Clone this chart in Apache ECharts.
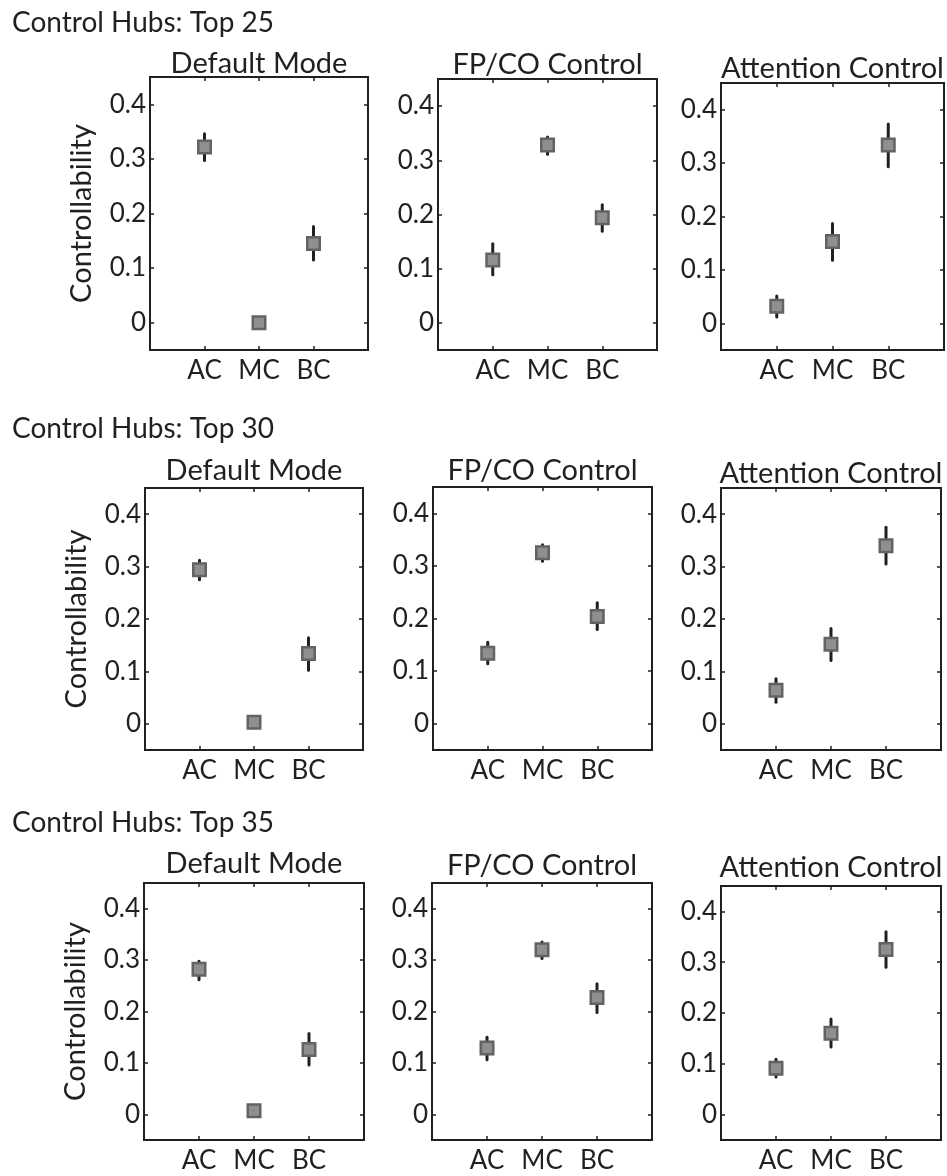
<!DOCTYPE html>
<html>
<head>
<meta charset="utf-8">
<script src="https://cdn.jsdelivr.net/npm/echarts@6/dist/echarts.min.js"></script>
<style>
  html, body { margin: 0; padding: 0; background: #fff; }
  #main { width: 947px; height: 1176px; }
</style>
</head>
<body>
<div id="main"></div>
<script>
// categories and tick labels
var categories = ['AC', 'MC', 'BC'];
var yTicks = [0, 0.1, 0.2, 0.3, 0.4];
var rowTitles = ['Control Hubs: Top 25', 'Control Hubs: Top 30', 'Control Hubs: Top 35'];
var panelTitles = ['Default Mode', 'FP/CO Control', 'Attention Control'];

// values, one inner array per network (DM, FP/CO, Attention)
var top25Mean = [[0.322, 0.000, 0.145], [0.116, 0.328, 0.194], [0.032, 0.153, 0.334]];
var top25Low  = [[0.297, 0.000, 0.115], [0.089, 0.311, 0.169], [0.012, 0.118, 0.293]];
var top25High = [[0.346, 0.000, 0.176], [0.146, 0.343, 0.218], [0.051, 0.187, 0.373]];

var top30Mean = [[0.294, 0.003, 0.134], [0.134, 0.325, 0.204], [0.064, 0.152, 0.340]];
var top30Low  = [[0.275, 0.003, 0.102], [0.114, 0.309, 0.179], [0.041, 0.121, 0.305]];
var top30High = [[0.312, 0.003, 0.164], [0.155, 0.340, 0.230], [0.086, 0.182, 0.375]];

var top35Mean = [[0.282, 0.007, 0.126], [0.129, 0.320, 0.227], [0.091, 0.160, 0.325]];
var top35Low  = [[0.262, 0.007, 0.096], [0.106, 0.303, 0.198], [0.074, 0.133, 0.290]];
var top35High = [[0.298, 0.007, 0.157], [0.150, 0.335, 0.254], [0.109, 0.188, 0.360]];

var rows = [
  {mean: top25Mean, low: top25Low, high: top25High},
  {mean: top30Mean, low: top30Low, high: top30High},
  {mean: top35Mean, low: top35Low, high: top35High}
];

// panel boxes: [left, top, right, bottom] in px
var boxes = [
  [[150, 77, 368, 350], [438, 79, 657, 350], [721, 83, 944, 350]],
  [[145, 488, 363, 750], [433, 487, 652, 750], [721, 488, 941, 750]],
  [[144, 883, 364, 1140], [432, 883, 652, 1140], [721, 886, 941, 1140]]
];
var rowTitleBase = [32, 438, 832];
var panelTitleBase = [[73, 74, 78], [480, 480, 483], [873, 875, 877]];

var FONT = 'Lato';
var INK = '#231f20';
var FS = 26;

var grid = [], xAxis = [], yAxis = [], series = [], title = [];

rowTitles.forEach(function (t, r) {
  title.push({
    text: t, left: 12, top: rowTitleBase[r] - 23, padding: 0,
    textStyle: {fontFamily: FONT, fontSize: 28, fontWeight: 'normal', color: INK}
  });
});

var gi = 0;
for (var r = 0; r < 3; r++) {
  for (var c = 0; c < 3; c++) {
    var b = boxes[r][c];
    grid.push({left: b[0], top: b[1], width: b[2] - b[0], height: b[3] - b[1],
      show: true, borderColor: INK, borderWidth: 2, backgroundColor: '#fff'});

    title.push({
      text: panelTitles[c], left: (b[0] + b[2]) / 2, top: panelTitleBase[r][c] - 24,
      textAlign: 'center', padding: 0,
      textStyle: {fontFamily: FONT, fontSize: 29, fontWeight: 'normal', color: INK}
    });

    var tickStyle = {show: true, inside: true, length: 4, lineStyle: {color: INK, width: 1.5}};
    var lineStyle = {show: true, onZero: false, lineStyle: {color: INK, width: 2}};
    xAxis.push({
      type: 'value', gridIndex: gi, min: 0, max: 4, position: 'bottom',
      axisLine: lineStyle,
      axisTick: Object.assign({customValues: [1, 2, 3]}, tickStyle),
      axisLabel: {customValues: [1, 2, 3], margin: 8, fontFamily: FONT, fontSize: FS, color: INK,
        formatter: function (v) { return categories[Math.round(v) - 1]; }},
      splitLine: {show: false}
    });
    xAxis.push({
      type: 'value', gridIndex: gi, min: 0, max: 4, position: 'top',
      axisLine: lineStyle,
      axisTick: Object.assign({customValues: [1, 2, 3]}, tickStyle),
      axisLabel: {show: false}, splitLine: {show: false}
    });
    yAxis.push({
      type: 'value', gridIndex: gi, min: -0.05, max: 0.45, position: 'left',
      name: c === 0 ? 'Controllability' : '', nameLocation: 'middle', nameRotate: 90, nameGap: 54,
      nameTextStyle: {fontFamily: FONT, fontSize: 29, color: INK},
      axisLine: lineStyle,
      axisTick: Object.assign({customValues: yTicks}, tickStyle),
      axisLabel: {customValues: yTicks, margin: 4, fontFamily: FONT, fontSize: FS, color: INK,
        formatter: function (v) { return Math.abs(v) < 1e-9 ? '0' : v.toFixed(1); }},
      splitLine: {show: false}
    });
    yAxis.push({
      type: 'value', gridIndex: gi, min: -0.05, max: 0.45, position: 'right',
      axisLine: lineStyle,
      axisTick: Object.assign({customValues: yTicks}, tickStyle),
      axisLabel: {show: false}, splitLine: {show: false}
    });

    var d = rows[r];
    var errData = [], ptData = [];
    for (var k = 0; k < categories.length; k++) {
      errData.push([k + 1, d.low[c][k], d.high[c][k]]);
      ptData.push([k + 1, d.mean[c][k]]);
    }
    series.push({
      type: 'custom', xAxisIndex: gi * 2, yAxisIndex: gi * 2, z: 2,
      data: errData,
      renderItem: function (params, api) {
        var p1 = api.coord([api.value(0), api.value(1)]);
        var p2 = api.coord([api.value(0), api.value(2)]);
        return {type: 'line', shape: {x1: p1[0], y1: p1[1], x2: p2[0], y2: p2[1]},
          style: {stroke: INK, lineWidth: 3, lineCap: 'round'}};
      }
    });
    series.push({
      type: 'scatter', xAxisIndex: gi * 2, yAxisIndex: gi * 2, z: 3,
      symbol: 'rect', symbolSize: 12.5,
      itemStyle: {color: '#8f8f8f', borderColor: '#636363', borderWidth: 2.5, opacity: 1},
      data: ptData
    });
    gi++;
  }
}

var chart = echarts.init(document.getElementById('main'));
chart.setOption({
  animation: false,
  backgroundColor: '#fff',
  title: title,
  grid: grid,
  xAxis: xAxis,
  yAxis: yAxis,
  series: series
});
</script>
</body>
</html>
